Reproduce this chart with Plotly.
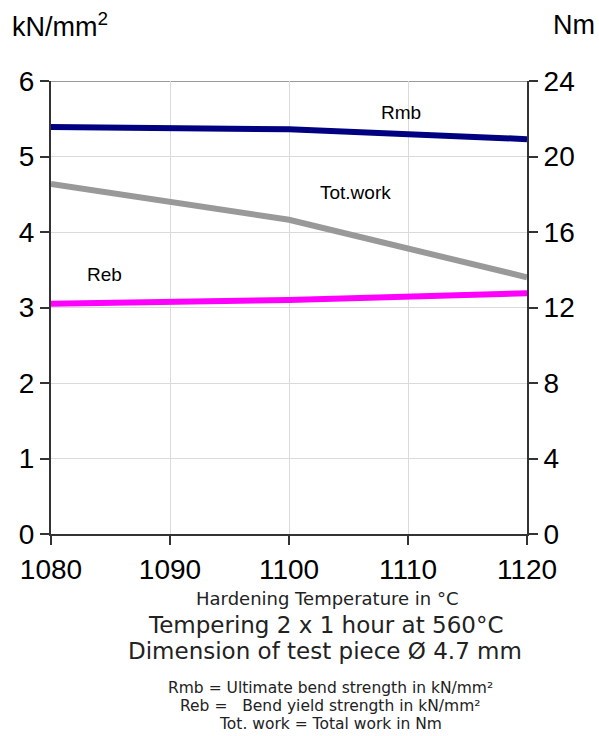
import plotly.graph_objects as go

temps = [1080, 1100, 1120]
rmb = [5.39, 5.36, 5.23]          # kN/mm2, left axis
reb = [3.05, 3.10, 3.19]          # kN/mm2, left axis
tot_work = [18.55, 16.65, 13.6]   # Nm, right axis

x_ticks = [1080, 1090, 1100, 1110, 1120]
y_left_ticks = [0, 1, 2, 3, 4, 5, 6]
y_right_ticks = [0, 4, 8, 12, 16, 20, 24]

fig = go.Figure()
fig.add_trace(go.Scatter(x=temps, y=rmb, mode="lines", line=dict(color="#000080", width=6), name="Rmb"))
fig.add_trace(go.Scatter(x=temps, y=tot_work, mode="lines", line=dict(color="#999999", width=6), name="Tot.work", yaxis="y2"))
fig.add_trace(go.Scatter(x=temps, y=reb, mode="lines", line=dict(color="#FF00FF", width=6), name="Reb"))

tick_font = dict(family="Liberation Sans, Arial, sans-serif", size=28, color="black")
axis_col = "#333333"

fig.update_layout(
    width=599, height=736,
    margin=dict(l=51, r=72, t=81, b=202),
    paper_bgcolor="white", plot_bgcolor="white",
    showlegend=False,
    xaxis=dict(range=[1080, 1120], tickvals=x_ticks, ticks="outside", ticklen=9, tickwidth=1.5, tickcolor=axis_col,
               showline=True, linecolor=axis_col, linewidth=2, showgrid=True, gridcolor="#dadada", gridwidth=1,
               zeroline=False, tickfont=tick_font),
    yaxis=dict(range=[0, 6], tickvals=y_left_ticks, ticks="outside", ticklen=9, tickwidth=1.5, tickcolor=axis_col,
               showline=True, linecolor=axis_col, linewidth=2, showgrid=True, gridcolor="#dadada", gridwidth=1,
               zeroline=False, tickfont=tick_font),
    yaxis2=dict(range=[0, 24], tickvals=y_right_ticks, overlaying="y", side="right", ticks="outside", ticklen=9,
                tickwidth=1.5, tickcolor=axis_col, showline=True, linecolor=axis_col, linewidth=2, showgrid=False,
                zeroline=False, tickfont=tick_font),
)

fig.add_shape(type="line", xref="paper", yref="y", x0=0, x1=1, y0=6, y1=6, line=dict(color="#999999", width=2), layer="below")

lab_font = dict(family="Liberation Sans, Arial, sans-serif", size=19, color="black")
fig.add_annotation(x=1109.4, y=5.58, text="Rmb", showarrow=False, font=lab_font)
fig.add_annotation(x=1105.6, y=4.52, text="Tot.work", showarrow=False, font=lab_font)
fig.add_annotation(x=1084.5, y=3.44, text="Reb", showarrow=False, font=lab_font)

def add_px(text, xpx, ypx, size, family="DejaVu Sans, sans-serif", color="#222222", anchor="center"):
    fig.add_annotation(x=(xpx - 51) / 476, y=(534 - ypx) / 453, xanchor=anchor, yanchor="middle",
                       xref="paper", yref="paper", showarrow=False,
                       text=text, font=dict(family=family, size=size, color=color))

add_px("kN/mm<sup>2</sup>", 10, 25, 27, family="Liberation Sans, Arial, sans-serif", color="black", anchor="left")
add_px("Nm", 597, 25, 27, family="Liberation Sans, Arial, sans-serif", color="black", anchor="right")
add_px("Hardening Temperature in °C", 327, 598, 18)
add_px("Tempering 2 x 1 hour at 560°C", 325, 625, 23)
add_px("Dimension of test piece Ø 4.7 mm", 325, 651, 23)
add_px("Rmb = Ultimate bend strength in kN/mm²", 330, 688, 15.5)
add_px("Reb =   Bend yield strength in kN/mm²", 330, 706, 15.5)
add_px("Tot. work = Total work in Nm", 330, 724, 15.5)

fig.write_html("out.html")
